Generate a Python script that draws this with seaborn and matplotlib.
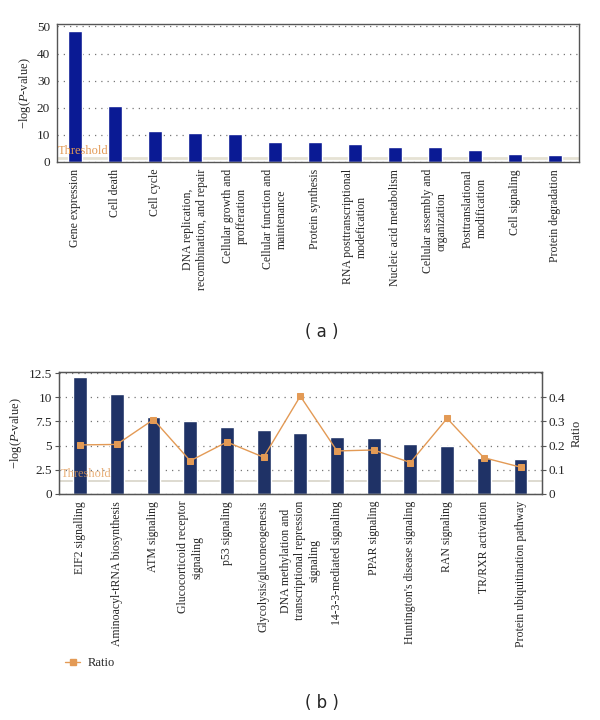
import matplotlib
matplotlib.use("Agg")
import matplotlib.pyplot as plt
import seaborn as sns
import pandas as pd
from matplotlib.lines import Line2D

# panel (a): functional categories
cats_a = [
    "Gene expression", "Cell death", "Cell cycle",
    "DNA replication,\nrecombination, and repair",
    "Cellular growth and\nprofferation", "Cellular function and\nmaintenance",
    "Protein synthesis", "RNA posttranscriptional\nmodefication",
    "Nucleic acid metabolism", "Cellular assembly and\norganization",
    "Posttranslational\nmodification", "Cell signaling", "Protein degradation",
]
logp_a = [48.5, 20.5, 11.5, 10.8, 10.5, 7.5, 7.2, 6.5, 5.7, 5.4, 4.5, 3.0, 2.7]

# panel (b): canonical pathways
cats_b = [
    "EIF2 signalling", "Aminoacyl-tRNA biosynthesis", "ATM signaling",
    "Glucocorticoid receptor\nsignaling", "p53 signaling",
    "Glycolysis/gluconeogenesis",
    "DNA methylation and\ntranscriptional repression\nsignaling",
    "14-3-3-mediated signaling", "PPAR signaling",
    "Huntington's disease signaling", "RAN signaling", "TR/RXR activation",
    "Protein ubiquitination pathway",
]
logp_b = [12.1, 10.35, 8.0, 7.55, 6.95, 6.6, 6.35, 5.85, 5.75, 5.2, 5.0, 3.7, 3.65]
ratio_b = [0.203, 0.205, 0.308, 0.137, 0.215, 0.152, 0.405, 0.178, 0.182, 0.130, 0.313, 0.150, 0.111]
threshold = 1.3

sns.set_style("white")
plt.rcParams["font.family"] = ["Liberation Serif", "DejaVu Serif"]
plt.rcParams["mathtext.fontset"] = "custom"
plt.rcParams["mathtext.rm"] = "Liberation Serif"
plt.rcParams["mathtext.it"] = "Liberation Serif:italic"

orange = "#e39a55"
grid_kw = dict(color="#777777", linestyle=(0, (1, 4)), linewidth=0.9)
fs = 8.5


def style_axis(ax):
    for s in ax.spines.values():
        s.set_color("#555555")
        s.set_linewidth(1.0)
    ax.yaxis.grid(True, **grid_kw)
    ax.set_axisbelow(True)
    ax.tick_params(axis="both", labelsize=fs, length=3, color="#555555", pad=2)
    ax.tick_params(axis="y", labelsize=9.5)
    ax.set_xlabel("")


fig = plt.figure(figsize=(6, 7.2), dpi=100)

# ---- panel a
ax1 = fig.add_axes([0.095, 0.775, 0.87, 0.192])
df_a = pd.DataFrame({"cat": cats_a, "val": logp_a})
sns.barplot(data=df_a, x="cat", y="val", color="#0a1a94", saturation=1,
            width=0.33, ax=ax1)
ax1.set_ylim(0, 51)
ax1.set_xlim(-0.45, len(cats_a) - 0.4)
ax1.set_yticks([0, 10, 20, 30, 40, 50])
ax1.axhline(threshold, color="#e6e2d4", linewidth=2, zorder=0.5)
ax1.text(-0.42, threshold + 0.6, "Threshold", color=orange, fontsize=9, va="bottom")
style_axis(ax1)
ax1.set_ylabel(r"$-$log($P$-value)", fontsize=9, labelpad=3)
ax1.set_xticks(range(len(cats_a)))
ax1.set_xticklabels(cats_a, rotation=90, va="top", ha="center", fontsize=fs,
                    multialignment="center")
fig.text(0.537, 0.539, "( a )", ha="center", va="center", fontsize=12,
         family="DejaVu Sans")

# ---- panel b
ax2 = fig.add_axes([0.098, 0.314, 0.805, 0.169])
df_b = pd.DataFrame({"cat": cats_b, "val": logp_b, "ratio": ratio_b})
sns.barplot(data=df_b, x="cat", y="val", color="#1f3266", saturation=1,
            width=0.38, ax=ax2)
ax2.set_ylim(0, 12.6)
ax2.set_yticks([0, 2.5, 5, 7.5, 10, 12.5])
ax2.set_yticklabels(["0", "2.5", "5", "7.5", "10", "12.5"])
ax2.axhline(threshold, color="#d8d4c8", linewidth=1.2, zorder=0.5)
ax2.text(-0.52, threshold + 0.12, "Threshold", color=orange, fontsize=9, va="bottom",
         alpha=0.8)
style_axis(ax2)
ax2.set_ylabel(r"$-$log($P$-value)", fontsize=9, labelpad=3)

ax3 = ax2.twinx()
sns.pointplot(data=df_b, x="cat", y="ratio", color=orange, markers="s",
              markersize=4.5, linewidth=1, ax=ax3)
ax3.set_ylim(0, 12.6 * 0.04)
ax3.set_yticks([0, 0.1, 0.2, 0.3, 0.4])
ax3.set_yticklabels(["0", "0.1", "0.2", "0.3", "0.4"])
ax3.set_ylabel("Ratio", fontsize=9)
ax3.tick_params(axis="y", labelsize=9.5, length=3, color="#555555", pad=2)
for s in ax3.spines.values():
    s.set_color("#555555")

ax2.set_xticks(range(len(cats_b)))
ax2.set_xticklabels(cats_b, rotation=90, va="top", ha="center", fontsize=fs,
                    multialignment="center")
ax2.set_xlim(-0.58, len(cats_b) - 0.42)
ax3.set_xlim(-0.58, len(cats_b) - 0.42)

handle = Line2D([], [], color=orange, marker="s", markersize=4.5, linewidth=1)
fig.legend([handle], ["Ratio"], loc="center left", bbox_to_anchor=(0.09, 0.079),
           frameon=False, fontsize=9, handlelength=1.2, handletextpad=0.6)
fig.text(0.537, 0.024, "( b )", ha="center", va="center", fontsize=12,
         family="DejaVu Sans")

fig.savefig("out.png", dpi=100)
